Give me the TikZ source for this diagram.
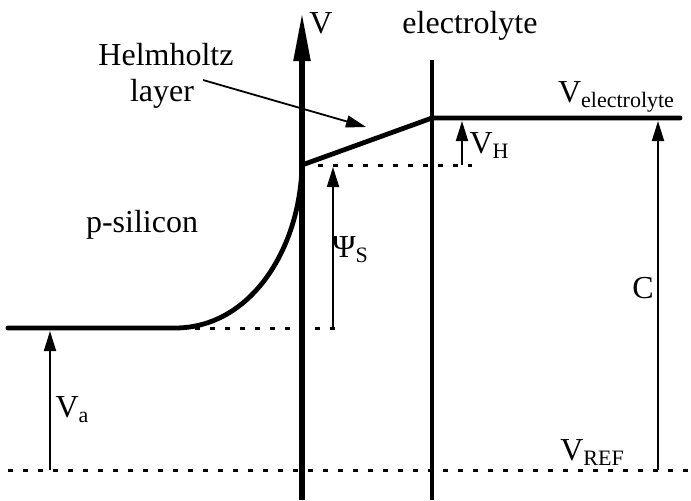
\documentclass[tikz,border=0pt]{standalone}
\usepackage{fontspec}
\setmainfont{Liberation Serif}
\usetikzlibrary{arrows.meta}
\newcommand\mysub[1]{\raisebox{-2.8pt}{\fontsize{11}{12}\selectfont #1}}
\begin{document}
\begin{tikzpicture}[x=0.5pt,y=-0.5pt,
  thickline/.style={line width=2.4pt,line cap=round},
  thinarrow/.style={line width=0.9pt,-{Triangle[length=10pt,width=6pt]}},
  dotline/.style={line width=1.5pt,dash pattern=on 2.5pt off 5pt},
  lbl/.style={font=\fontsize{16}{18}\selectfont,inner sep=0pt,anchor=base}]
\useasboundingbox (0,0) rectangle (691,500);
% coordinates
\coordinate (axbot) at (302,500);
\coordinate (axtop) at (302,13);
\coordinate (eltop) at (432,60);
\coordinate (elbot) at (432,500);
\coordinate (L0) at (8,328);
\coordinate (L1) at (175,328);
\coordinate (S) at (302,165);
\coordinate (H) at (432,118);
\coordinate (R) at (680,118);
% axes
\draw[line width=2.6pt,-{Triangle[length=24pt,width=8pt]}] (axbot) -- (axtop);
\draw[thickline,line cap=butt] (elbot) -- (eltop);
% potential curve
\draw[thickline,line join=round] (L0) -- (L1) .. controls (250,328) and (300,250) .. (S) -- (H) -- (R);
% dotted levels
\coordinate (d1a) at (318,165); \coordinate (d1b) at (472,165);
\coordinate (d2a) at (195,328); \coordinate (d2b) at (343,328);
\coordinate (d3a) at (8,470);   \coordinate (d3b) at (691,470);
\draw[dotline] (d1a) -- (d1b);
\draw[dotline] (d2a) -- (d2b);
\draw[dotline] (d3a) -- (d3b);
% measuring arrows
\coordinate (va0) at (50,470);  \coordinate (va1) at (50,331);
\coordinate (ps0) at (333,328); \coordinate (ps1) at (333,167);
\coordinate (vh0) at (462,165); \coordinate (vh1) at (462,121);
\coordinate (c0) at (658,470);  \coordinate (c1) at (658,121);
\draw[thinarrow] (va0) -- (va1);
\draw[thinarrow] (ps0) -- (ps1);
\draw[thinarrow] (vh0) -- (vh1);
\draw[thinarrow] (c0) -- (c1);
% labels
\node[lbl] (vlab) at (321,33) {V};
\node[lbl] (ellab) at (470,33) {electrolyte};
\node[lbl] (hl1) at (166,65) {Helmholtz};
\node[lbl] (hl2) at (162,101) {layer};
\node[lbl] (psi) at (142,232) {p-silicon};
\node[lbl] (vel) at (616,102) {V\mysub{electrolyte}};
\node[lbl] (vhl) at (489,153) {V\mysub{H}};
\node[lbl] (psl) at (350,257) {Ψ\mysub{S}};
\node[lbl] (cl) at (643,298) {C};
\node[lbl] (val) at (72,417) {V\mysub{a}};
\node[lbl] (vref) at (592,460) {V\mysub{REF}};
% Helmholtz pointer
\coordinate (hp0) at (203,80);
\coordinate (hp1) at (366,127);
\draw[thinarrow] (hp0) -- (hp1);
\end{tikzpicture}
\end{document}
